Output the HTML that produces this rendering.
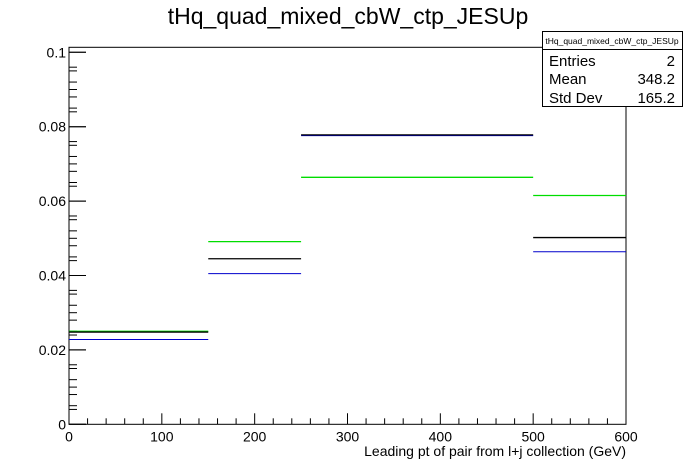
<!DOCTYPE html>
<html><head><meta charset="utf-8"><style>
body{margin:0;background:#fff;}
svg{display:block;font-family:"Liberation Sans",Arial,sans-serif;}
</style></head><body>
<svg id="c" width="696" height="472" viewBox="0 0 696 472">
<rect width="696" height="472" fill="#fff"/>
<text x="348" y="24" text-anchor="middle" font-size="23">tHq_quad_mixed_cbW_ctp_JESUp</text>
<g id="axes"></g>
<g id="marks"></g>
<g>
<rect x="542.5" y="31.5" width="140" height="75" fill="#fff" stroke="#000"/>
<line x1="542.5" y1="49.5" x2="682.5" y2="49.5" stroke="#000"/>
<text x="612" y="44" text-anchor="middle" font-size="8.5">tHq_quad_mixed_cbW_ctp_JESUp</text>
<text x="549" y="66" font-size="15">Entries</text><text x="675" y="66" font-size="15" text-anchor="end">2</text>
<text x="549" y="84" font-size="15">Mean</text><text x="675" y="84" font-size="15" text-anchor="end">348.2</text>
<text x="549" y="103" font-size="15">Std Dev</text><text x="675" y="103" font-size="15" text-anchor="end">165.2</text>
</g>
<text x="626" y="456" text-anchor="end" font-size="14">Leading pt of pair from l+j collection (GeV)</text>
</svg>
<script>
const binEdges=[0,150,250,500,600];
const greenVals=[0.0250,0.0491,0.0664,0.0615];
const blackVals=[0.0248,0.0445,0.0778,0.0502];
const blueVals=[0.0228,0.0405,0.0776,0.0464];
const xTicks=[0,100,200,300,400,500,600];
const yTicks=[0,0.02,0.04,0.06,0.08,0.1];
const yTickLabels=["0","0.02","0.04","0.06","0.08","0.1"];
const L=69,R=626,B=424.3,T=47.3;
const X=v=>L+(v-0)/600*(R-L);
const Y=v=>B-v/0.1*(B-52.3);
const NS="http://www.w3.org/2000/svg";
function mk(tag,attrs,parent){const e=document.createElementNS(NS,tag);for(const k in attrs)e.setAttribute(k,attrs[k]);parent.appendChild(e);return e;}
const ax=document.getElementById('axes'),mg=document.getElementById('marks');
const fr=mk('rect',{x:L,y:T,width:R-L,height:B-T,fill:'none',stroke:'#000','stroke-width':1},ax);


for(let v=0;v<=600;v+=20){const big=v%100===0;mk('line',{x1:X(v),x2:X(v),y1:B,y2:B-(big?11:6),stroke:'#000'},ax);}
xTicks.forEach(v=>{const t=mk('text',{x:X(v),y:B+17,'text-anchor':'middle','font-size':14},ax);t.textContent=v;

});
for(let i=0;i<=50;i++){const v=i*0.002;if(Y(v)<T)break;const big=i%10===0;if(i%2)continue;mk('line',{x1:L,x2:L+(big?17:8),y1:Y(v),y2:Y(v),stroke:'#000'},ax);}
for(let i=0;i<=20;i++){const v=i*0.005;if(Y(v)<T)break;const big=i%4===0;mk('line',{x1:L,x2:L+(big?17:8),y1:Y(v),y2:Y(v),stroke:'#000'},ax);}
yTicks.forEach((v,i)=>{const t=mk('text',{x:L-3,y:Y(v)+5,'text-anchor':'end','font-size':14},ax);t.textContent=yTickLabels[i];

});
function series(vals,color,w,name){vals.forEach((v,i)=>{const l=mk('line',{x1:X(binEdges[i]),x2:X(binEdges[i+1]),y1:Y(v),y2:Y(v),stroke:color,'stroke-width':w},mg);

});}
series(blueVals,'#0000cc',1,'blue-series');
series(greenVals,'#00dd00',1.3,'green-series');
series(blackVals,'#000',1.3,'black-series');
</script>
</body></html>
